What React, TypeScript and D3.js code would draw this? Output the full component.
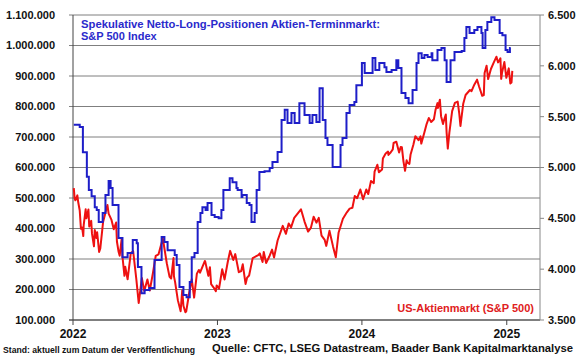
import React from "react";
import * as d3 from "d3";

const leftTicks = [100000, 200000, 300000, 400000, 500000, 600000, 700000, 800000, 900000, 1000000, 1100000];
const rightTicks = [3500, 4000, 4500, 5000, 5500, 6000, 6500];
const yearTicks = ["2022-01-01", "2023-01-01", "2024-01-01", "2025-01-01"];

// Spekulative Netto-Long-Positionen (Tsd. Kontrakte), weekly changes
const blueDates = [
  "2022-01-03","2022-01-18","2022-01-26","2022-02-05","2022-02-10","2022-02-17","2022-02-25","2022-03-02","2022-03-07",
  "2022-03-17","2022-03-24","2022-04-01","2022-04-06","2022-04-11","2022-04-26","2022-05-06","2022-05-19","2022-06-01",
  "2022-06-11","2022-06-14","2022-06-23","2022-07-01","2022-07-13","2022-07-26","2022-08-13","2022-08-20","2022-08-28",
  "2022-09-15","2022-09-20","2022-09-27","2022-10-07","2022-10-15","2022-10-23","2022-10-28","2022-11-04","2022-11-12",
  "2022-11-19","2022-11-24","2022-12-02","2022-12-07","2022-12-17","2022-12-25","2023-01-04","2023-01-11","2023-01-16",
  "2023-02-01","2023-02-08","2023-02-18","2023-02-21","2023-03-03","2023-03-05","2023-03-16","2023-03-23","2023-03-28",
  "2023-04-05","2023-04-10","2023-04-17","2023-04-30","2023-05-13","2023-05-20","2023-06-02","2023-06-12","2023-06-20",
  "2023-06-27","2023-07-07","2023-07-15","2023-07-27","2023-08-09","2023-08-22","2023-08-29","2023-09-08","2023-09-16",
  "2023-09-24","2023-10-01","2023-10-06","2023-10-19","2023-11-08","2023-11-13","2023-11-23","2023-12-01","2023-12-13",
  "2023-12-18","2024-01-01","2024-01-08","2024-01-28","2024-02-04","2024-02-14","2024-02-27","2024-03-03","2024-03-16",
  "2024-03-28","2024-04-02","2024-04-10","2024-04-20","2024-04-28","2024-05-08","2024-05-18","2024-05-23","2024-05-31",
  "2024-06-07","2024-06-15","2024-06-25","2024-06-27","2024-07-10","2024-07-20","2024-07-28","2024-08-02","2024-08-12",
  "2024-08-22","2024-09-09","2024-09-16","2024-09-21","2024-09-29","2024-10-11","2024-10-19","2024-10-29","2024-11-01",
  "2024-11-08","2024-11-13","2024-11-23","2024-12-01","2024-12-14","2024-12-21","2024-12-29","2025-01-03","2025-01-09",
  "2025-01-11"
];
const blueValues = [
  740, 733, 650, 570, 526, 506, 470, 461, 421,
  451, 510, 556, 533, 477, 369, 306, 320, 362,
  352, 274, 188, 198, 205, 297, 372, 356, 329,
  313, 280, 208, 182, 175, 225, 306, 320, 421,
  451, 470, 461, 484, 444, 438, 434, 461, 526,
  565, 552, 533, 526, 503, 510, 484, 477, 421,
  451, 526, 585, 588, 598, 618, 651, 756, 789,
  746, 779, 746, 811, 772, 746, 772, 749, 860,
  756, 697, 674, 602, 674, 697, 779, 805, 815,
  870, 943, 910, 959, 920, 943, 929, 913, 920,
  952, 926, 844, 828, 811, 854, 943, 975, 959,
  969, 962, 975, 952, 985, 992, 952, 880, 952,
  979, 982, 1025, 1061, 1041, 1051, 1061, 1041, 992,
  1051, 1077, 1093, 1084, 1041, 1034, 985, 979, 992,
  992
];

// US-Aktienmarkt (S&P 500)
const redDates = [
  "2022-01-03","2022-01-05","2022-01-07","2022-01-12","2022-01-14","2022-01-18","2022-01-21","2022-01-24","2022-01-27","2022-01-28",
  "2022-02-02","2022-02-04","2022-02-09","2022-02-11","2022-02-16","2022-02-18","2022-02-23","2022-02-25","2022-03-01","2022-03-03",
  "2022-03-08","2022-03-11","2022-03-18","2022-03-29","2022-04-01","2022-04-08","2022-04-14","2022-04-20","2022-04-22","2022-04-26",
  "2022-04-29","2022-05-04","2022-05-06","2022-05-11","2022-05-13","2022-05-19","2022-05-27","2022-06-02","2022-06-10","2022-06-16",
  "2022-06-24","2022-06-30","2022-07-08","2022-07-14","2022-07-22","2022-07-29","2022-08-05","2022-08-16","2022-08-19","2022-08-26",
  "2022-09-02","2022-09-06","2022-09-12","2022-09-13","2022-09-16","2022-09-23","2022-09-30","2022-10-04","2022-10-07","2022-10-12",
  "2022-10-14","2022-10-21","2022-10-28","2022-11-03","2022-11-10","2022-11-15","2022-11-18","2022-11-30","2022-12-01","2022-12-09",
  "2022-12-13","2022-12-16","2022-12-22","2022-12-28","2022-12-30",
  "2023-01-05","2023-01-13","2023-01-19","2023-01-27","2023-02-02","2023-02-10","2023-02-15","2023-02-24","2023-03-02","2023-03-06",
  "2023-03-13","2023-03-17","2023-03-22","2023-03-31","2023-04-14","2023-04-18","2023-04-25","2023-04-28","2023-05-04","2023-05-12",
  "2023-05-19","2023-05-24","2023-06-02","2023-06-15","2023-06-23","2023-06-30","2023-07-06","2023-07-14","2023-07-31","2023-08-09",
  "2023-08-18","2023-08-25","2023-09-01","2023-09-08","2023-09-14","2023-09-21","2023-09-29","2023-10-03","2023-10-11","2023-10-20",
  "2023-10-27","2023-11-03","2023-11-14","2023-11-24","2023-12-01","2023-12-08","2023-12-14","2023-12-20","2023-12-28","2023-12-29",
  "2024-01-04","2024-01-12","2024-01-17","2024-01-24","2024-01-31","2024-02-02","2024-02-09","2024-02-13","2024-02-21","2024-02-23",
  "2024-03-01","2024-03-07","2024-03-08","2024-03-14","2024-03-19","2024-03-21","2024-03-28","2024-04-04","2024-04-08","2024-04-11",
  "2024-04-15","2024-04-19","2024-04-23","2024-04-25","2024-04-30","2024-05-03","2024-05-10","2024-05-15","2024-05-23","2024-05-28",
  "2024-05-30","2024-06-07","2024-06-12","2024-06-18","2024-06-24","2024-07-01","2024-07-05","2024-07-10","2024-07-11","2024-07-16",
  "2024-07-19","2024-07-24","2024-07-26","2024-07-31","2024-08-02","2024-08-05","2024-08-09","2024-08-16","2024-08-23","2024-08-30",
  "2024-09-03","2024-09-06","2024-09-13","2024-09-19","2024-09-30","2024-10-04","2024-10-11","2024-10-18","2024-10-23","2024-10-31",
  "2024-11-04","2024-11-06","2024-11-11","2024-11-15","2024-11-22","2024-11-29","2024-12-06","2024-12-10","2024-12-13","2024-12-16",
  "2024-12-18","2024-12-20","2024-12-26","2024-12-31","2025-01-06","2025-01-10","2025-01-13","2025-01-15"
];
const redValues = [
  4797, 4701, 4677, 4726, 4663, 4577, 4398, 4410, 4326, 4432,
  4589, 4500, 4587, 4419, 4475, 4349, 4225, 4385, 4306, 4363,
  4170, 4204, 4463, 4632, 4546, 4488, 4393, 4459, 4272, 4175,
  4132, 4300, 4123, 3935, 4024, 3900, 4158, 4177, 3901, 3667,
  3912, 3785, 3899, 3790, 3962, 4130, 4145, 4305, 4228, 4058,
  3924, 3908, 4110, 3932, 3873, 3693, 3586, 3791, 3640, 3577,
  3583, 3753, 3901, 3720, 3956, 3992, 3965, 4080, 4077, 3934,
  4019, 3852, 3822, 3783, 3840,
  3808, 3999, 3899, 4071, 4180, 4090, 4148, 3970, 3981, 4048,
  3855, 3917, 3937, 4109, 4138, 4155, 4071, 4169, 4061, 4124,
  4192, 4115, 4282, 4426, 4348, 4450, 4411, 4505, 4589, 4468,
  4370, 4406, 4516, 4457, 4505, 4330, 4288, 4229, 4377, 4224,
  4117, 4358, 4496, 4559, 4595, 4604, 4719, 4698, 4783, 4770,
  4688, 4784, 4739, 4868, 4846, 4959, 5027, 4953, 4981, 5089,
  5137, 5157, 5124, 5150, 5178, 5241, 5254, 5147, 5202, 5199,
  5061, 4967, 5071, 5048, 5036, 5128, 5223, 5308, 5268, 5306,
  5235, 5347, 5421, 5487, 5448, 5475, 5567, 5633, 5585, 5667,
  5505, 5427, 5459, 5522, 5346, 5186, 5344, 5554, 5635, 5648,
  5529, 5408, 5626, 5713, 5762, 5751, 5815, 5864, 5797, 5705,
  5712, 5929, 6001, 5870, 5969, 6032, 6090, 6034, 6051, 6074,
  5872, 5931, 6037, 5882, 5975, 5827, 5836, 5950
];

const titleLines = ["Spekulative Netto-Long-Positionen Aktien-Terminmarkt:", "S&P 500 Index"];
const redLabel = "US-Aktienmarkt (S&P 500)";
const footLeft = "Stand: aktuell zum Datum der Veröffentlichung";
const footRight = "Quelle: CFTC, LSEG Datastream, Baader Bank Kapitalmarktanalyse";

const W = 580, H = 359;
const M = { left: 73, right: 540, top: 15, bottom: 320 };
const FONT = "Arial, 'Liberation Sans', sans-serif";
const BLUE = "#1e1ec8";
const RED = "#ee1111";

const parse = d3.utcParse("%Y-%m-%d");
const fmtDE = (v: number) => d3.format(",")(v).replace(/,/g, ".");

export default function App() {
  const x = d3.scaleUtc().domain([parse("2022-01-01")!, parse("2025-03-26")!]).range([M.left, M.right]);
  const yL = d3.scaleLinear().domain([100000, 1100000]).range([M.bottom, M.top]);
  const yR = d3.scaleLinear().domain([3500, 6500]).range([M.bottom, M.top]);

  const blue = blueDates.map((d, i) => ({ d: parse(d)!, v: blueValues[i] * 1000 }));
  const red = redDates.map((d, i) => ({ d: parse(d)!, v: redValues[i] }));

  const blueLine = d3.line<{ d: Date; v: number }>().x(p => x(p.d)).y(p => yL(p.v)).curve(d3.curveStepAfter)(blue)!;
  const redLine = d3.line<{ d: Date; v: number }>().x(p => x(p.d)).y(p => yR(p.v))(red)!;

  return (
    <svg width={W} height={H} style={{ position: "absolute", left: 0, top: 0, background: "#fff" }} fontFamily={FONT}>
      <rect x={0} y={0} width={W} height={H} fill="#fff" />
      {leftTicks.map(t => (
        <g key={t}>
          <line x1={M.left - 4} x2={M.right} y1={yL(t)} y2={yL(t)} stroke={t === 100000 ? "#000" : "#7f7f7f"} strokeWidth={1} />
          <text x={55} y={yL(t)} dy="0.35em" textAnchor="end" fontSize={11} fontWeight="bold" fill="#111">{fmtDE(t)}</text>
        </g>
      ))}
      <line x1={M.left} x2={M.left} y1={M.top} y2={M.bottom} stroke="#444" />
      <line x1={M.right} x2={M.right} y1={M.top} y2={M.bottom} stroke="#888" />
      {rightTicks.map(t => (
        <g key={t}>
          <line x1={M.right} x2={M.right + 4} y1={yR(t)} y2={yR(t)} stroke="#888" />
          <text x={548} y={yR(t)} dy="0.35em" fontSize={11} fontWeight="bold" fill="#111">{fmtDE(t)}</text>
        </g>
      ))}
      {yearTicks.map(t => (
        <g key={t}>
          <line x1={x(parse(t)!)} x2={x(parse(t)!)} y1={M.bottom} y2={M.bottom + 5} stroke="#444" />
          <text x={x(parse(t)!)} y={338} textAnchor="middle" fontSize={12} fontWeight="bold" fill="#111">{t.slice(0, 4)}</text>
        </g>
      ))}
      <path d={redLine} fill="none" stroke={RED} strokeWidth={2} strokeLinejoin="round" />
      <path d={blueLine} fill="none" stroke={BLUE} strokeWidth={2} />
      <text x={81} y={28} fontSize={11} fontWeight="bold" fill="#2a2acc" textLength={299} lengthAdjust="spacingAndGlyphs">{titleLines[0]}</text>
      <text x={81} y={40} fontSize={11} fontWeight="bold" fill="#2a2acc">{titleLines[1]}</text>
      <text x={534} y={312} textAnchor="end" fontSize={11} fontWeight="bold" fill="#e02020">{redLabel}</text>
      <text x={3} y={353} fontSize={8.5} fontWeight="bold" fill="#111" textLength={192} lengthAdjust="spacingAndGlyphs">{footLeft}</text>
      <text x={212} y={352} fontSize={10.5} fontWeight="bold" fill="#111" textLength={361} lengthAdjust="spacingAndGlyphs">{footRight}</text>
    </svg>
  );
}
